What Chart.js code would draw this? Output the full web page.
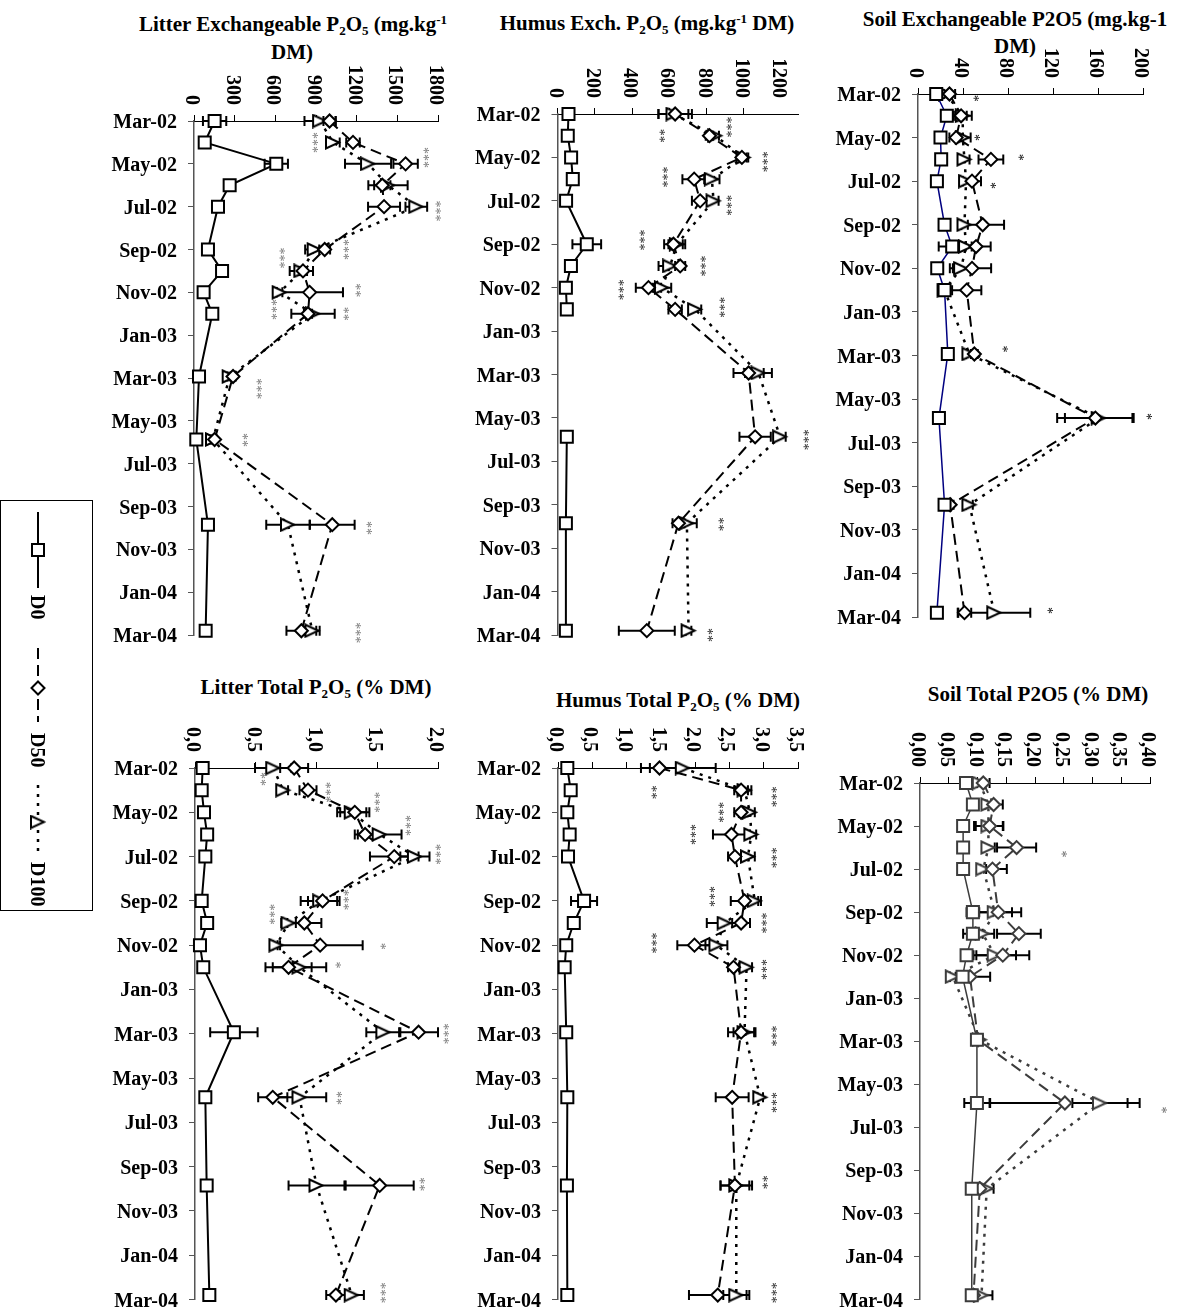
<!DOCTYPE html>
<html lang="en">
<head>
<meta charset="UTF-8">
<title>P2O5 in litter, humus and soil</title>
<script src="https://cdn.jsdelivr.net/npm/chart.js@4.4.0/dist/chart.umd.min.js"></script>
<style>
  body {
    margin: 0;
    width: 1178px;
    height: 1310px;
    position: relative;
    overflow: hidden;
    background: #fff;
    font-family: 'Liberation Serif', 'Times New Roman', serif;
  }
  .panel { position: absolute; }
  .ttl {
    position: absolute;
    font-weight: bold;
    font-size: 21px;
    line-height: 1;
    white-space: nowrap;
    transform: translateX(-50%);
    color: #000;
  }
  .ttl sub, .ttl sup { font-size: 0.62em; line-height: 0; position: relative; vertical-align: baseline; }
  .ttl sub { top: 0.3em; }
  .ttl sup { top: -0.55em; }
  #legend { position: absolute; left: 0; top: 490px; }
</style>
</head>
<body>
  <!-- titles -->
  <div class="ttl" style="left:293px;top:14px">Litter Exchangeable P<sub>2</sub>O<sub>5</sub> (mg.kg<sup>-1</sup></div>
  <div class="ttl" style="left:292px;top:42px">DM)</div>
  <div class="ttl" style="left:647px;top:13px">Humus Exch. P<sub>2</sub>O<sub>5</sub> (mg.kg<sup>-1</sup> DM)</div>
  <div class="ttl" style="left:1015px;top:9px">Soil Exchangeable P2O5 (mg.kg-1</div>
  <div class="ttl" style="left:1015px;top:36px">DM)</div>
  <div class="ttl" style="left:316px;top:677px">Litter Total P<sub>2</sub>O<sub>5</sub> (% DM)</div>
  <div class="ttl" style="left:678px;top:690px">Humus Total P<sub>2</sub>O<sub>5</sub> (% DM)</div>
  <div class="ttl" style="left:1038px;top:684px">Soil Total P2O5 (% DM)</div>

  <canvas id="legend" width="100" height="430"></canvas>

<script>
// sampling dates, in months after Mar-02
const sampleMonth = [0, 1, 2, 3, 4, 6, 7, 8, 9, 11.93, 14.87, 18.85, 23.8];
const dateTicks = ['Mar-02', 'May-02', 'Jul-02', 'Sep-02', 'Nov-02', 'Jan-03', 'Mar-03',
                   'May-03', 'Jul-03', 'Sep-03', 'Nov-03', 'Jan-04', 'Mar-04'];
const seriesNames = ['D0', 'D50', 'D100'];

// Litter exchangeable P2O5 (mg/kg DM)
const litExTicks = ['0', '300', '600', '900', '1200', '1500', '1800'];
const litExD0 = [152, 79, 607, 263, 177, 103, 207, 71, 135, 37, 17, 103, 86];
const litExD0Err = [86, 0, 86, 25, 0, 0, 0, 0, 0, 0, 0, 0, 0];
const litExD50 = [1000, 1173, 1561, 1389, 1402, 964, 804, 853, 841, 288, 152, 1020, 792];
const litExD50Err = [45, 50, 90, 60, 118, 40, 30, 246, 30, 20, 15, 165, 110];
const litExD100 = [930, 1025, 1284, 1431, 1640, 890, 792, 632, 878, 263, 140, 693, 873];
const litExD100Err = [115, 50, 170, 145, 80, 70, 86, 20, 160, 15, 15, 160, 54];
const litExStars = [[1.0, 898, '***'], [1.7, 1714, '***'], [4.2, 1800, '***'], [6.0, 1124, '***'],
  [6.4, 652, '***'], [7.9, 1210, '**'], [8.8, 595, '***'], [9.0, 1124, '**'], [12.5, 480, '***'],
  [14.9, 381, '**'], [19.0, 1298, '**'], [23.9, 1210, '***']];

// Humus exchangeable P2O5 (mg/kg DM)
const humExTicks = ['0', '200', '400', '600', '800', '1000', '1200'];
const humExD0 = [59, 55, 73, 82, 46, 157, 72, 45, 50, null, 50, 45, 45];
const humExD0Err = [0, 0, 0, 0, 0, 77, 0, 0, 0, 0, 0, 0, 0];
const humExD50 = [631, 815, 989, 733, 765, 622, 658, 488, 631, 1025, 1060, 649, 479];
const humExD50Err = [90, 20, 25, 63, 44, 50, 27, 68, 36, 81, 84, 32, 150];
const humExD100 = [622, 846, 998, 828, 837, 640, 604, 560, 738, 1078, 1194, 694, 703];
const humExD100Err = [80, 20, 25, 41, 27, 45, 62, 50, 33, 72, 30, 53, 15];
const humExStars = [[1.0, 565, '**'], [0.6, 921, '***'], [2.2, 1114, '***'], [2.9, 578, '***'],
  [4.2, 921, '***'], [5.8, 458, '***'], [7.0, 783, '***'], [8.1, 345, '***'], [8.9, 885, '***'],
  [15.0, 1337, '***'], [18.9, 881, '**'], [24.0, 819, '**']];

// Soil exchangeable P2O5 (mg/kg DM)
const soilExTicks = ['0', '40', '80', '120', '160', '200'];
const soilExD0 = [16.2, 25.6, 20.0, 20.6, 16.8, 23.6, 30.4, 17.1, 23.6, 26.5, 18.6, 23.6, 16.8];
const soilExD0Err = [0, 0, 0, 0, 0, 0, 12, 0, 0, 0, 0, 0, 0];
const soilExD50 = [28, 38.3, 33.9, 64.8, 48, 57.5, 51.6, 48, 43.3, 50.1, 157.7, 28.6, 41.3];
const soilExD50Err = [5, 5, 6, 11, 8, 19, 13, 17, 13, 3, 34, 3, 6];
const soilExD100 = [25, 39.8, 39.8, 41.3, 42.7, 41.3, 42.7, 38.3, 23.6, 45.7, 160.6, 45.7, 67.8];
const soilExD100Err = [3, 8, 7, 4.5, 4.4, 3, 5, 10, 3, 3, 30, 3, 32];
const soilExStars = [[0.2, 51.6, '*'], [2.0, 52.5, '*'], [2.9, 92, '*'], [4.2, 67, '*'],
  [11.7, 77.5, '*'], [14.8, 206, '*'], [23.7, 118, '*']];

// Litter total P2O5 (% DM)
const litTotTicks = ['0,0', '0,5', '1,0', '1,5', '2,0'];
const litTotD0 = [0.063, 0.055, 0.074, 0.100, 0.085, 0.055, 0.100, 0.041, 0.068, 0.320, 0.085, 0.096, 0.118];
const litTotD0Err = [0, 0, 0, 0, 0, 0, 0, 0, 0, 0.195, 0, 0, 0];
const litTotD50 = [0.816, 0.93, 1.315, 1.40, 1.64, 1.05, 0.90, 1.03, 0.77, 1.84, 0.64, 1.52, 1.16];
const litTotD50Err = [0.115, 0.07, 0.12, 0.085, 0.2, 0.12, 0.14, 0.35, 0.19, 0.16, 0.12, 0.28, 0.08];
const litTotD100 = [0.644, 0.726, 1.29, 1.52, 1.81, 1.03, 0.77, 0.67, 0.86, 1.55, 0.86, 1.00, 1.29];
const litTotD100Err = [0.15, 0.04, 0.12, 0.18, 0.12, 0.16, 0.06, 0.03, 0.22, 0.14, 0.22, 0.23, 0.10];
const litTotStars = [[0.5, 0.56, '**'], [1.1, 1.10, '***'], [1.55, 1.50, '***'], [2.6, 1.76, '***'],
  [3.9, 2.0, '***'], [5.95, 1.25, '***'], [6.6, 0.64, '***'], [8.05, 1.55, '*'], [8.9, 1.18, '*'],
  [12.0, 2.07, '***'], [14.9, 1.19, '**'], [18.8, 1.87, '**'], [23.7, 1.55, '***']];

// Humus total P2O5 (% DM)
const humTotTicks = ['0,0', '0,5', '1,0', '1,5', '2,0', '2,5', '3,0', '3,5'];
const humTotD0 = [0.136, 0.185, 0.136, 0.170, 0.146, 0.380, 0.230, 0.120, 0.097, 0.120, 0.136, 0.130, 0.136];
const humTotD0Err = [0, 0, 0, 0, 0, 0.19, 0, 0, 0, 0, 0, 0, 0];
const humTotD50 = [1.48, 2.67, 2.67, 2.53, 2.58, 2.72, 2.67, 1.99, 2.56, 2.67, 2.54, 2.58, 2.33];
const humTotD50Err = [0.27, 0.1, 0.1, 0.27, 0.1, 0.2, 0.13, 0.25, 0.08, 0.19, 0.24, 0.21, 0.42];
const humTotD100 = [1.82, 2.72, 2.80, 2.82, 2.77, 2.87, 2.43, 2.31, 2.75, 2.72, 2.95, 2.60, 2.60];
const humTotD100Err = [0.48, 0.1, 0.07, 0.07, 0.1, 0.09, 0.26, 0.16, 0.08, 0.16, 0.04, 0.23, 0.19];
const humTotStars = [[1.1, 1.40, '**'], [1.3, 3.15, '***'], [2.0, 2.39, '***'], [3.0, 1.98, '***'],
  [4.05, 3.15, '***'], [5.8, 2.26, '***'], [7.0, 3.01, '***'], [7.9, 1.41, '***'], [9.1, 3.01, '***'],
  [12.1, 3.15, '***'], [15.1, 3.16, '***'], [18.7, 3.03, '**'], [23.7, 3.16, '***']];

// Soil total P2O5 (% DM)
const soilTotTicks = ['0,00', '0,05', '0,10', '0,15', '0,20', '0,25', '0,30', '0,35', '0,40'];
const soilTotD0 = [0.080, 0.092, 0.075, 0.075, 0.075, 0.092, 0.092, 0.081, 0.074, 0.099, 0.099, 0.090, 0.090];
const soilTotD0Err = [0, 0, 0, 0, 0, 0.011, 0.017, 0, 0, 0, 0.022, 0, 0];
const soilTotD50 = [0.110, 0.128, 0.121, 0.168, 0.126, 0.136, 0.172, 0.144, 0.087, 0.101, 0.252, 0.104, 0.093];
const soilTotD50Err = [0.011, 0.016, 0.024, 0.034, 0.025, 0.04, 0.038, 0.046, 0.035, 0.004, 0.13, 0.006, 0.005];
const soilTotD100 = [0.104, 0.119, 0.119, 0.119, 0.110, 0.130, 0.109, 0.130, 0.057, 0.104, 0.313, 0.116, 0.107];
const soilTotD100Err = [0.005, 0.005, 0.025, 0.011, 0.005, 0.03, 0.02, 0.037, 0.005, 0.005, 0.048, 0.012, 0.019];
const soilTotStars = [[3.3, 0.252, '*'], [15.2, 0.425, '*']];

const FONT = '"Liberation Serif", "Times New Roman", serif';
const TICK_LEN = 6;

// panel layout: canvas box and where the axes must land on the page
const panels = [
  { box: [95, 60, 375, 600], axis: [194, 121, 438, 635], max: 1800, step: 300, ticks: litExTicks,
    d0: litExD0, d0e: litExD0Err, d50: litExD50, d50e: litExD50Err, d100: litExD100, d100e: litExD100Err,
    stars: litExStars, starColor: '#777', line: '#000', d0Line: '#000', d0Width: 2 },
  { box: [470, 60, 360, 600], axis: [557.5, 114, 798, 635], max: 1290, step: 200, ticks: humExTicks,
    d0: humExD0, d0e: humExD0Err, d50: humExD50, d50e: humExD50Err, d100: humExD100, d100e: humExD100Err,
    stars: humExStars, starColor: '#222', line: '#000', d0Line: '#000', d0Width: 2 },
  { box: [830, 40, 348, 600], axis: [918, 94, 1143, 617], max: 200, step: 40, ticks: soilExTicks,
    d0: soilExD0, d0e: soilExD0Err, d50: soilExD50, d50e: soilExD50Err, d100: soilExD100, d100e: soilExD100Err,
    stars: soilExStars, starColor: '#000', line: '#000', d0Line: '#000080', d0Width: 1.5 },
  { box: [95, 712, 375, 598], axis: [195, 768, 438, 1300], max: 2.0, step: 0.5, ticks: litTotTicks,
    d0: litTotD0, d0e: litTotD0Err, d50: litTotD50, d50e: litTotD50Err, d100: litTotD100, d100e: litTotD100Err,
    stars: litTotStars, starColor: '#777', line: '#000', d0Line: '#000', d0Width: 2 },
  { box: [470, 712, 360, 598], axis: [558, 768, 798, 1300], max: 3.5, step: 0.5, ticks: humTotTicks,
    d0: humTotD0, d0e: humTotD0Err, d50: humTotD50, d50e: humTotD50Err, d100: humTotD100, d100e: humTotD100Err,
    stars: humTotStars, starColor: '#222', line: '#000', d0Line: '#000', d0Width: 2 },
  { box: [830, 712, 348, 598], axis: [920, 783, 1150, 1300], max: 0.40, step: 0.05, ticks: soilTotTicks,
    d0: soilTotD0, d0e: soilTotD0Err, d50: soilTotD50, d50e: soilTotD50Err, d100: soilTotD100, d100e: soilTotD100Err,
    stars: soilTotStars, starColor: '#666', line: '#3c3c3c', d0Line: '#3c3c3c', d0Width: 1.5, mark: '#3c3c3c' }
];

// right-pointing open triangle marker (the figure is turned a quarter)
function triangleMarker(color) {
  const c = document.createElement('canvas');
  c.width = 20; c.height = 15;
  const g = c.getContext('2d');
  g.beginPath();
  g.moveTo(3, 1.5); g.lineTo(16, 7.5); g.lineTo(3, 13.5); g.closePath();
  g.fillStyle = '#fff'; g.fill();
  g.lineWidth = 2; g.strokeStyle = color; g.stroke();
  return c;
}

function overlay(p) {
  return {
    id: 'overlay',
    beforeDatasetsDraw(chart) {
      // error bars
      const { ctx, scales: { x, y } } = chart;
      ctx.save();
      ctx.strokeStyle = '#000';
      ctx.lineWidth = 2;
      [[p.d0, p.d0e], [p.d50, p.d50e], [p.d100, p.d100e]].forEach(([vals, errs]) => {
        vals.forEach((v, i) => {
          const e = errs[i];
          if (v === null || !e) return;
          const py = y.getPixelForValue(sampleMonth[i]);
          const xl = x.getPixelForValue(v - e);
          const xr = x.getPixelForValue(v + e);
          ctx.beginPath();
          ctx.moveTo(xl, py); ctx.lineTo(xr, py);
          ctx.moveTo(xl, py - 5); ctx.lineTo(xl, py + 5);
          ctx.moveTo(xr, py - 5); ctx.lineTo(xr, py + 5);
          ctx.stroke();
        });
      });
      ctx.restore();
    },
    afterDraw(chart) {
      const { ctx, scales: { x, y }, chartArea } = chart;
      ctx.save();
      ctx.fillStyle = '#000';
      ctx.font = 'bold 20px ' + FONT;
      // value ticks, turned to read downwards
      p.ticks.forEach(lbl => {
        const px = x.getPixelForValue(parseFloat(lbl.replace(',', '.')));
        ctx.save();
        ctx.translate(px, chartArea.top - 16);
        ctx.rotate(Math.PI / 2);
        ctx.textAlign = 'right';
        ctx.textBaseline = 'alphabetic';
        ctx.fillText(lbl, 0, 8);
        ctx.restore();
      });
      // date ticks
      ctx.textAlign = 'right';
      ctx.textBaseline = 'alphabetic';
      dateTicks.forEach((lbl, i) => {
        ctx.fillText(lbl, chartArea.left - 17, y.getPixelForValue(i * 2) + 7);
      });
      // significance stars
      ctx.fillStyle = p.starColor;
      ctx.font = '14px ' + FONT;
      p.stars.forEach(([m, v, s]) => {
        ctx.save();
        ctx.translate(x.getPixelForValue(v), y.getPixelForValue(m));
        ctx.rotate(Math.PI / 2);
        ctx.textAlign = 'center';
        ctx.fillText(s, 0, 7.5);
        ctx.restore();
      });
      ctx.restore();
    }
  };
}

function makePanel(p) {
  const [bx, by, bw, bh] = p.box;
  const [ax0, ay0, ax1, ay1] = p.axis;
  const mark = p.mark || '#000';
  const holder = document.createElement('div');
  holder.className = 'panel';
  holder.style.cssText = `left:${bx}px;top:${by}px;width:${bw}px;height:${bh}px`;
  const cv = document.createElement('canvas');
  holder.appendChild(cv);
  document.body.appendChild(holder);

  const pts = arr => arr.map((v, i) => ({ x: v, y: sampleMonth[i] }));
  const base = {
    showLine: true, clip: false, borderWidth: 2, pointBorderWidth: 2,
    pointBackgroundColor: '#fff', pointBorderColor: mark, pointHoverRadius: 0
  };

  new Chart(cv, {
    type: 'scatter',
    data: {
      datasets: [
        Object.assign({}, base, { label: seriesNames[0], data: pts(p.d0), borderColor: p.d0Line,
          borderWidth: p.d0Width, pointStyle: 'rect', pointRadius: 8.5 }),
        Object.assign({}, base, { label: seriesNames[1], data: pts(p.d50), borderColor: p.line,
          borderDash: [11, 6], pointStyle: 'rectRot', pointRadius: 6.5 }),
        Object.assign({}, base, { label: seriesNames[2], data: pts(p.d100), borderColor: p.line,
          borderDash: [3, 6], borderWidth: 2.5, pointStyle: triangleMarker(mark), pointRadius: 8 })
      ]
    },
    options: {
      responsive: true,
      maintainAspectRatio: false,
      animation: false,
      events: [],
      layout: {
        padding: { left: ax0 - bx - TICK_LEN, top: ay0 - by - TICK_LEN, right: bx + bw - ax1, bottom: by + bh - ay1 }
      },
      plugins: { legend: { display: false }, tooltip: { enabled: false } },
      scales: {
        x: {
          type: 'linear', position: 'top', min: 0, max: p.max,
          ticks: { display: false, stepSize: p.step },
          afterBuildTicks: s => {
            s.ticks = s.ticks.filter(t => Math.abs(t.value / p.step - Math.round(t.value / p.step)) < 1e-6);
          },
          grid: { drawOnChartArea: false, drawTicks: true, tickLength: TICK_LEN, color: '#000', lineWidth: 1 },
          border: { color: '#000', width: 1 }
        },
        y: {
          type: 'linear', reverse: true, min: 0, max: 24,
          ticks: { display: false, stepSize: 2 },
          grid: { drawOnChartArea: false, drawTicks: true, tickLength: TICK_LEN, color: '#555', lineWidth: 1 },
          border: { color: '#555', width: 1.5 }
        }
      }
    },
    plugins: [overlay(p)]
  });
}

panels.forEach(makePanel);

// legend, turned a quarter like the rest of the figure
function drawLegend() {
  const cv = document.getElementById('legend');
  const g = cv.getContext('2d');
  g.strokeStyle = '#000';
  g.lineWidth = 1;
  g.strokeRect(0.5, 10.5, 92, 410);
  const cx = 38;
  const entries = [
    { from: 22, to: 98, marker: 60, text: 105, dash: [], width: 2 },
    { from: 158, to: 232, marker: 198, text: 243, dash: [11, 6], width: 2 },
    { from: 295, to: 365, marker: 332, text: 372, dash: [3, 6], width: 2.5 }
  ];
  entries.forEach((e, i) => {
    g.save();
    g.strokeStyle = '#000';
    g.lineWidth = e.width;
    g.setLineDash(e.dash);
    g.beginPath(); g.moveTo(cx, e.from); g.lineTo(cx, e.to); g.stroke();
    g.restore();
    g.save();
    g.lineWidth = 2; g.strokeStyle = '#000'; g.fillStyle = '#fff';
    if (i === 0) {
      g.fillRect(cx - 6, e.marker - 6, 12, 12);
      g.strokeRect(cx - 6, e.marker - 6, 12, 12);
    } else if (i === 1) {
      g.beginPath();
      g.moveTo(cx, e.marker - 6.5); g.lineTo(cx + 6.5, e.marker);
      g.lineTo(cx, e.marker + 6.5); g.lineTo(cx - 6.5, e.marker); g.closePath();
      g.fill(); g.stroke();
    } else {
      g.drawImage(triangleMarker('#000'), cx - 10, e.marker - 7.5);
    }
    g.restore();
    g.save();
    g.translate(cx, e.text);
    g.rotate(Math.PI / 2);
    g.font = 'bold 20px ' + FONT;
    g.fillStyle = '#000';
    g.textAlign = 'left';
    g.fillText(seriesNames[i], 0, 7);
    g.restore();
  });
}
drawLegend();
</script>
</body>
</html>
